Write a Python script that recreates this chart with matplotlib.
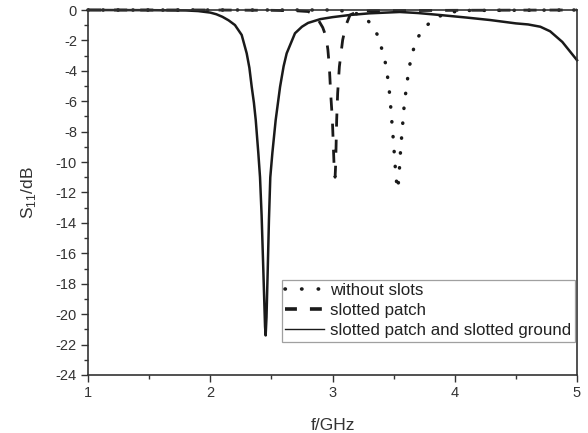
import numpy as np
import matplotlib
matplotlib.use("Agg")
import matplotlib.pyplot as plt
from matplotlib.lines import Line2D
from matplotlib.ticker import MultipleLocator

plt.rcParams['font.family'] = ['Liberation Sans', 'DejaVu Sans']
plt.rcParams['mathtext.fontset'] = 'custom'
plt.rcParams['mathtext.rm'] = 'Liberation Sans'
plt.rcParams['axes.unicode_minus'] = False

# without slots (dotted)
f_noslot = [1.0, 2.0, 3.0, 3.15, 3.25, 3.31, 3.38, 3.41, 3.44, 3.455, 3.47, 3.48, 3.49,
            3.50, 3.51, 3.52, 3.53, 3.54, 3.545, 3.55, 3.56, 3.57, 3.58, 3.59, 3.61,
            3.62, 3.65, 3.68, 3.765, 3.85, 3.95, 4.1, 5.0]
s_noslot = [0.0, 0.0, 0.0, -0.1, -0.4, -0.87, -1.8, -2.8, -3.7, -4.7, -5.7, -6.8, -7.8,
            -8.8, -10.0, -11.0, -11.8, -11.3, -10.9, -10.0, -8.9, -7.9, -6.9, -5.9, -4.9,
            -4.0, -3.0, -2.0, -1.05, -0.5, -0.15, -0.03, 0.0]

# slotted patch (dashed)
f_patch = [1.0, 2.0, 2.5, 2.7, 2.8, 2.85, 2.884, 2.92, 2.947, 2.962, 2.974, 2.985, 2.999,
           3.007, 3.015, 3.021, 3.025, 3.029, 3.034, 3.042, 3.056, 3.083, 3.11, 3.143,
           3.2, 3.3, 4.0, 5.0]
s_patch = [0.0, 0.0, -0.02, -0.05, -0.1, -0.3, -0.66, -1.15, -1.75, -2.6, -3.73, -5.48, -7.24,
           -9.0, -10.7, -11.0, -10.3, -9.0, -7.24, -5.48, -3.73, -1.97, -1.0, -0.33,
           -0.12, -0.05, -0.02, 0.0]

# slotted patch and slotted ground (solid)
f_ground = [1.0, 1.5, 1.8, 1.9, 2.0, 2.05, 2.1, 2.15, 2.202, 2.257, 2.298, 2.32, 2.339,
            2.357, 2.372, 2.393, 2.407, 2.42, 2.434, 2.448, 2.453, 2.46, 2.47, 2.48, 2.491,
            2.508, 2.535, 2.571, 2.60, 2.625, 2.693, 2.75, 2.8, 2.9, 3.0, 3.14, 3.3, 3.55,
            3.7, 3.88, 4.1, 4.29, 4.5, 4.6, 4.7, 4.78, 4.83, 4.88, 4.93, 4.97, 5.0]
s_ground = [0.0, -0.01, -0.03, -0.07, -0.17, -0.28, -0.45, -0.68, -0.99, -1.64, -2.85, -3.8, -5.05,
            -6.1, -7.24, -9.4, -11.0, -13.5, -17.1, -20.8, -21.4, -20.2, -17.1, -13.8, -11.0,
            -9.4, -7.24, -5.05, -3.7, -2.85, -1.53, -1.1, -0.85, -0.6, -0.47, -0.33, -0.22, -0.13,
            -0.2, -0.33, -0.5, -0.66, -0.88, -0.95, -1.1, -1.4, -1.75, -2.1, -2.6, -3.0, -3.3]

labels = ["without slots", "slotted patch", "slotted patch and slotted ground"]

fig = plt.figure(figsize=(5.88, 4.33), dpi=100)
ax = fig.add_axes([0.1497, 0.134, 0.8316, 0.8429])

ink = "#1a1a1a"
ax.plot(f_noslot, s_noslot, color=ink, lw=2.5, linestyle=(0, (0.1, 4.2)),
        dash_capstyle='round', clip_on=False)
ax.plot(f_patch, s_patch, color=ink, lw=2.0, linestyle=(0, (4.7, 4.7)), clip_on=False)
ax.plot(f_ground, s_ground, color=ink, lw=1.8, clip_on=False)

ax.set_xlim(1, 5)
ax.set_ylim(-24, 0)
ax.xaxis.set_major_locator(MultipleLocator(1))
ax.xaxis.set_minor_locator(MultipleLocator(0.5))
ax.yaxis.set_major_locator(MultipleLocator(2))
ax.yaxis.set_minor_locator(MultipleLocator(1))
ax.tick_params(which='both', direction='out', color='#333333', width=1.0,
               labelsize=10.5, labelcolor='#333333', pad=3)
ax.tick_params(which='major', length=5)
ax.tick_params(which='minor', length=3)
for sp in ax.spines.values():
    sp.set_linewidth(1.2)
    sp.set_color('#333333')

ax.set_xlabel("f/GHz", fontsize=12.5, color='#333333', labelpad=13)
ax.set_ylabel("S$_{\\mathregular{11}}$/dB", fontsize=12.5, color='#333333', labelpad=13)

handles = [Line2D([], [], color=ink, lw=2.6, linestyle=(0, (0.1, 4.5)), dash_capstyle='round'),
           Line2D([], [], color=ink, lw=2.6, linestyle=(0, (3.3, 3.6))),
           Line2D([], [], color=ink, lw=1.0)]
leg = ax.legend(handles, labels, loc='lower right', bbox_to_anchor=(0.996, 0.09),
                borderaxespad=0, fontsize=12.2, frameon=True, fancybox=False,
                edgecolor='#888888', handlelength=2.3, handletextpad=0.35,
                labelspacing=0.3, borderpad=0.22)
leg.get_frame().set_linewidth(0.9)
for t in leg.get_texts():
    t.set_color('#222222')

fig.savefig("out.png", dpi=100)
